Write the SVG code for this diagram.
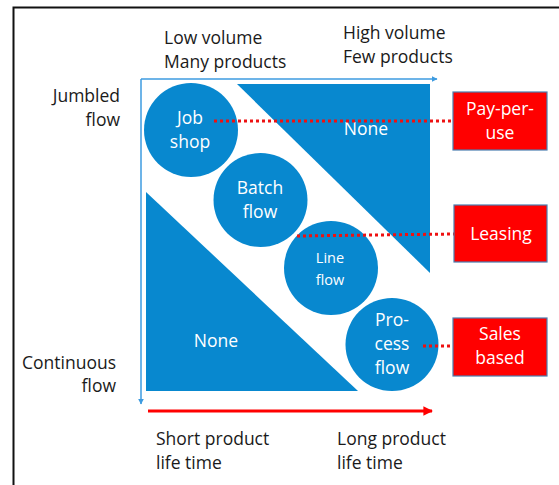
<svg xmlns="http://www.w3.org/2000/svg" width="559" height="485" viewBox="0 0 559 485">
<defs>
<style>
text{font-family:"Open Sans","Noto Sans",sans-serif;font-size:17.5px;}
.dark{fill:#1a1a1a;}
.w{fill:#ffffff;text-anchor:middle;}
.r{text-anchor:end;}
.blue{fill:#0888cf;}
.box{fill:#ff0000;stroke:#4a7eb0;stroke-width:1.2;}
.dot{stroke:#ee1111;stroke-width:3;stroke-dasharray:3 3;fill:none;}
.axis{stroke:#3d9be0;stroke-width:1.5;fill:none;}
</style>
<marker id="ab" viewBox="0 0 10 10" refX="9" refY="5" markerWidth="6" markerHeight="6" markerUnits="userSpaceOnUse" orient="auto"><path d="M0,0 L10,5 L0,10 z" fill="#3d9be0"/></marker>
<marker id="ar" viewBox="0 0 10 10" refX="9" refY="5" markerWidth="4" markerHeight="3.2" orient="auto"><path d="M0,0 L10,5 L0,10 z" fill="#ff0000"/></marker>
</defs>
<rect width="559" height="485" fill="#ffffff"/>
<path d="M13.5,485 V7.5 H559" fill="none" stroke="#111" stroke-width="2"/>

<g id="axes">
<line class="axis" x1="141" y1="79" x2="437" y2="79" marker-end="url(#ab)"/>
<line class="axis" x1="141" y1="79" x2="141" y2="404" marker-end="url(#ab)"/>
</g>

<g id="region-none-top">
<polygon class="blue" points="237,84 430,84 430,273"/>
<text class="w" x="366" y="135">None</text>
</g>
<g id="region-none-bottom">
<polygon class="blue" points="146,192 146,391 358,391"/>
<text class="w" x="216" y="347">None</text>
</g>

<g id="job-shop">
<circle class="blue" cx="191" cy="130" r="47"/>
<text class="w" x="190" y="124">Job</text>
<text class="w" x="190" y="148">shop</text>
</g>
<g id="batch-flow">
<circle class="blue" cx="260.5" cy="200" r="47"/>
<text class="w" x="260" y="194">Batch</text>
<text class="w" x="260" y="218">flow</text>
</g>
<g id="line-flow">
<circle class="blue" cx="331" cy="268" r="47"/>
<text class="w" x="330" y="263" style="font-size:14.5px">Line</text>
<text class="w" x="330" y="285" style="font-size:14.5px">flow</text>
</g>
<g id="process-flow">
<circle class="blue" cx="392" cy="344.5" r="46.5"/>
<text class="w" x="392" y="326">Pro-</text>
<text class="w" x="392" y="350">cess</text>
<text class="w" x="392" y="374">flow</text>
</g>

<g id="connectors">
<line class="dot" x1="214" y1="121" x2="453" y2="121"/>
<line class="dot" x1="297" y1="236" x2="454" y2="234"/>
<line class="dot" x1="423" y1="346" x2="453" y2="346"/>
<line x1="148" y1="411" x2="432" y2="411" stroke="#ff0000" stroke-width="3" marker-end="url(#ar)"/>
</g>

<g id="pay-per-use">
<rect class="box" x="453" y="92" width="94" height="58"/>
<text class="w" x="500" y="115">Pay-per-</text>
<text class="w" x="500" y="139">use</text>
</g>
<g id="leasing">
<rect class="box" x="454" y="205" width="93" height="57"/>
<text class="w" x="501" y="240">Leasing</text>
</g>
<g id="sales-based">
<rect class="box" x="453" y="318" width="94" height="58"/>
<text class="w" x="500" y="340">Sales</text>
<text class="w" x="500" y="364">based</text>
</g>

<g id="labels">
<text class="dark" x="164" y="44">Low volume</text>
<text class="dark" x="164" y="68">Many products</text>
<text class="dark" x="343" y="39">High volume</text>
<text class="dark" x="343" y="63">Few products</text>
<text class="dark r" x="120" y="102">Jumbled</text>
<text class="dark r" x="120" y="126">flow</text>
<text class="dark r" x="116" y="369">Continuous</text>
<text class="dark r" x="116" y="392">flow</text>
<text class="dark" x="156" y="445">Short product</text>
<text class="dark" x="156" y="469">life time</text>
<text class="dark" x="337" y="445">Long product</text>
<text class="dark" x="337" y="469">life time</text>
</g>
</svg>
